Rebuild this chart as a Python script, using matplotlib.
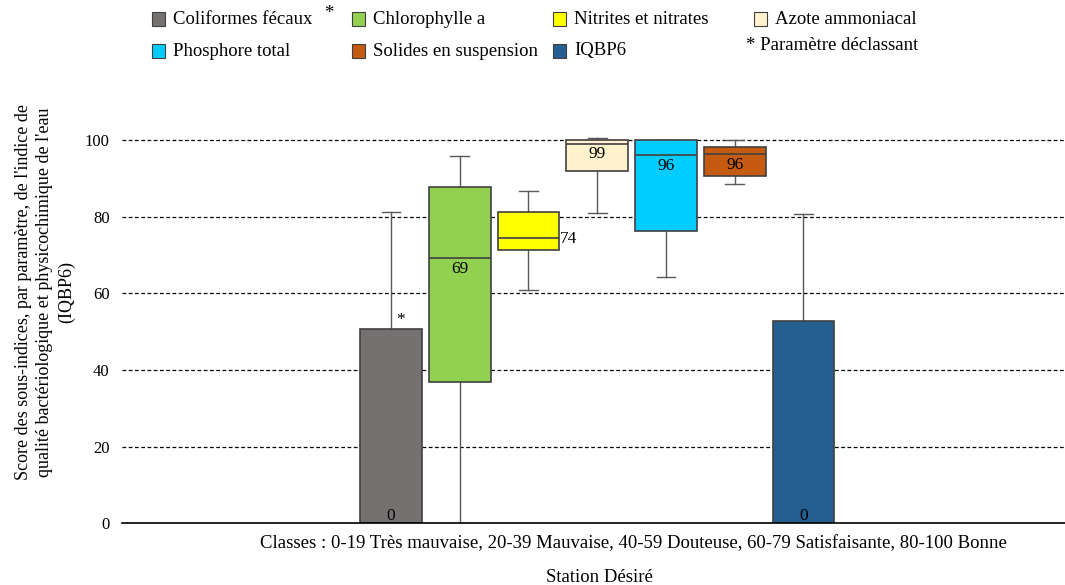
import matplotlib
matplotlib.use("Agg")
import matplotlib.pyplot as plt
from matplotlib.patches import Rectangle

plt.rcParams['font.family'] = ['Liberation Serif', 'DejaVu Serif']

# ---- data ----
params = ["Coliformes fécaux", "Chlorophylle a", "Nitrites et nitrates",
          "Azote ammoniacal", "Phosphore total", "Solides en suspension", "IQBP6"]
whisk_low = [0.0, 0.0, 60.9, 81.0, 64.2, 88.6, 0.0]
q1 = [0.0, 36.9, 71.4, 91.9, 76.3, 90.5, 0.0]
median = [0.0, 69.3, 74.3, 98.9, 96.0, 96.4, 0.0]
q3 = [50.6, 87.7, 81.2, 100.0, 100.0, 98.1, 52.7]
whisk_high = [81.3, 95.7, 86.8, 100.4, 100.0, 100.0, 80.8]
y_ticks = [0, 20, 40, 60, 80, 100]
colors = ["#767171", "#92D050", "#FFFF00", "#FFF2CC", "#00CCFF", "#C55A11", "#255E91"]
declassant = "Coliformes fécaux"
classes_note = "Classes : 0-19 Très mauvaise, 20-39 Mauvaise, 40-59 Douteuse, 60-79 Satisfaisante, 80-100 Bonne"
station = "Station Désiré"
ylabel = ("Score des sous-indices, par paramètre, de l'indice de\n"
          "qualité bactériologique et physicochimique de l'eau\n(IQBP6)")

# label placement style (offset in pixels, alignment)
label_style = [((0, 7), 'center'), ((0, -11), 'center'), ((0, -1), 'left'),
               ((0, -10), 'center'), ((0, -11), 'center'), ((0, -11), 'center'),
               ((0, 7), 'center')]

W, H = 1065, 585
fig = plt.figure(figsize=(W / 100, H / 100), dpi=100)
ax = fig.add_axes([122 / W, (H - 523.3) / H, 1 - 122 / W, 421.7 / H])

positions = list(range(1, len(params) + 1))
stats = []
for i in range(len(params)):
    stats.append(dict(med=median[i], q1=q1[i], q3=q3[i],
                      whislo=whisk_low[i], whishi=whisk_high[i], fliers=[]))

edge = "#404040"
bp = ax.bxp(stats, positions=positions, widths=0.9, capwidths=0.27,
            patch_artist=True, showfliers=False,
            boxprops=dict(edgecolor=edge, linewidth=1.2),
            medianprops=dict(color=edge, linewidth=1.2),
            whiskerprops=dict(color="#595959", linewidth=1.0),
            capprops=dict(color="#595959", linewidth=1.0))
for patch, c in zip(bp['boxes'], colors):
    patch.set_facecolor(c)
    patch.set_zorder(3)
for k in ('whiskers', 'caps'):
    for l in bp[k]:
        l.set_zorder(2.5)
for l in bp['medians']:
    l.set_zorder(3.5)

# median labels
for i, p in enumerate(positions):
    (dx, dy), ha = label_style[i]
    xpos = p + 0.45 if ha == 'left' else p
    ax.annotate(f"{round(median[i])}", xy=(xpos, median[i]), xytext=(dx, dy),
                textcoords='offset pixels', ha=ha, va='center', fontsize=12.5,
                zorder=5)
    if params[i] == declassant:
        ax.annotate("*", xy=(p, q3[i]), xytext=(10, 9), textcoords='offset pixels',
                    ha='center', va='center', fontsize=12.5, zorder=5)

ax.set_xlim(-2.913, 10.804)
ax.set_ylim(0, 110)
ax.set_yticks(y_ticks)
ax.set_yticklabels([str(t) for t in y_ticks], fontsize=12)
ax.tick_params(axis='y', length=0, pad=9)
ax.tick_params(axis='x', length=0, labelbottom=False)
for t in y_ticks[1:]:
    ax.axhline(t, color='black', linewidth=0.9, linestyle=(0, (3, 2)), zorder=1)
for s in ('top', 'right', 'left'):
    ax.spines[s].set_visible(False)
ax.spines['bottom'].set_linewidth(1.2)
ax.spines['bottom'].set_zorder(4)

# y label
fig.text(45 / W, 1 - 292 / H, ylabel, rotation=90, ha='center', va='center',
         multialignment='center', fontsize=13, linespacing=1.32)

# bottom texts
fig.text(633 / W, 1 - 544 / H, classes_note, ha='center', va='center', fontsize=13.5)
fig.text(599 / W, 1 - 577 / H, station, ha='center', va='center', fontsize=13.5)

# manual legend
col_x = [152, 352, 553, 754]
row_y = [19, 51]
order = [(0, 0), (0, 1), (0, 2), (0, 3), (1, 0), (1, 1), (1, 2)]
sq = 13
for i, (r, c) in enumerate(order):
    x0 = col_x[c]
    yc = row_y[r]
    fig.patches.append(Rectangle((x0 / W, 1 - (yc + sq / 2) / H), sq / W, sq / H,
                                 transform=fig.transFigure, facecolor=colors[i],
                                 edgecolor=edge, linewidth=0.8))
    fig.text((x0 + 21) / W, 1 - yc / H, params[i], ha='left', va='center', fontsize=13.5)
fig.text(329 / W, 1 - 13 / H, "*", ha='center', va='center', fontsize=13.5)
fig.text(746 / W, 1 - 46 / H, "* Paramètre déclassant", ha='left', va='center', fontsize=13.5)

fig.savefig("out.png", dpi=100)
